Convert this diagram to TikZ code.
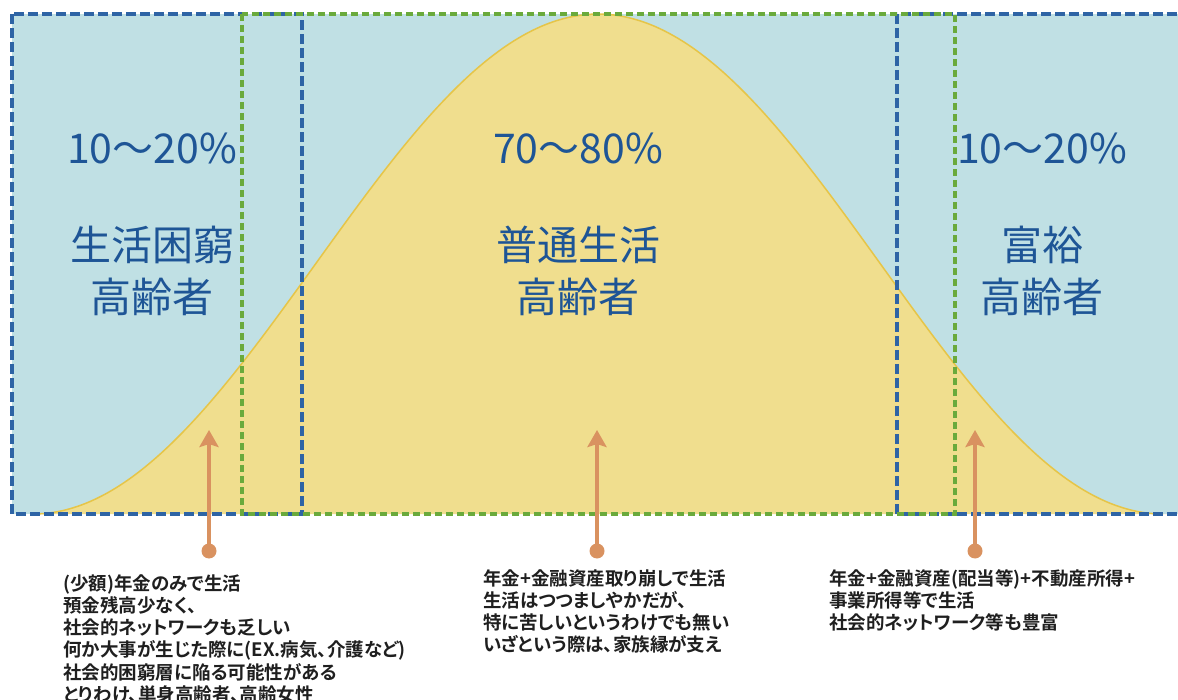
\documentclass[tikz,border=0pt]{standalone}
\usepackage{fontspec}
\newfontfamily\jpfont[RawFeature=+palt, BoldFont={Noto Sans CJK JP Bold}]{Noto Sans CJK JP}
\usetikzlibrary{arrows.meta, positioning}

\definecolor{skyfill}{HTML}{C0E0E4}
\definecolor{bellfill}{HTML}{F0DE8E}
\definecolor{bellline}{HTML}{E6C548}
\definecolor{boxblue}{HTML}{2E64A5}
\definecolor{boxgreen}{HTML}{6AAA3C}
\definecolor{pointer}{HTML}{D99260}
\definecolor{labelblue}{HTML}{1E5596}

\begin{document}
\begin{tikzpicture}[
x=1pt, y=-1pt,
bluebox/.style={draw=boxblue, line width=3.5pt, dash pattern=on 10pt off 4pt},
greenbox/.style={draw=boxgreen, line width=3.5pt, dash pattern=on 7pt off 4pt},
bigtext/.style={text=labelblue, font=\jpfont\fontsize{41}{52}\selectfont, align=center, inner sep=0pt},
notetext/.style={text=black!88, font=\jpfont\bfseries\fontsize{18.5}{22.3}\selectfont, align=left, anchor=north west, inner sep=0pt},
dotnode/.style={circle, fill=pointer, minimum size=15pt, inner sep=0pt},
pointerline/.style={draw=pointer, line width=4.5pt, -{Stealth[length=17pt, width=19pt, inset=3pt]}}
]

\useasboundingbox (0,0) rectangle (1178,700);

% background and bell curve
\fill[skyfill] (12,14) rectangle (1178,514);
\fill[bellfill] (33,514) -- plot[domain=33:1163, samples=150, smooth] (\x, {514-500*pow(cos(0.159292*(\x-598)),2)}) -- (1178,514) -- cycle;
\draw[bellline, line width=1.5pt] plot[domain=33:1163, samples=150, smooth] (\x, {514-500*pow(cos(0.159292*(\x-598)),2)});

% dashed groups
\draw[bluebox] (12,14) rectangle (302,514);
\draw[bluebox] (897,14) rectangle (1195,514);
\draw[greenbox] (242,14) rectangle (955,514);

% labels
\node[bigtext] (pct_poor) at (152,148) {10～20\%};
\node[bigtext] (grp_poor) at (152,271) {生活困窮\\高齢者};
\node[bigtext] (pct_mid) at (578,148) {70～80\%};
\node[bigtext] (grp_mid) at (578,271) {普通生活\\高齢者};
\node[bigtext] (pct_rich) at (1042,148) {10～20\%};
\node[bigtext] (grp_rich) at (1042,271) {富裕\\高齢者};

% pointers
\node[dotnode] (dot_poor) at (209,551) {};
\node[dotnode] (dot_mid) at (597,551) {};
\node[dotnode] (dot_rich) at (975,551) {};
\coordinate (tip_poor) at (209,430);
\coordinate (tip_mid) at (597,430);
\coordinate (tip_rich) at (975,430);

\path[pointerline] (dot_poor.center) -- (tip_poor);
\path[pointerline] (dot_mid.center) -- (tip_mid);
\path[pointerline] (dot_rich.center) -- (tip_rich);

% notes
\node[notetext] (note_poor) at (63,574) {(少額)年金のみで生活\\預金残高少なく、\\社会的ネットワークも乏しい\\何か大事が生じた際に(EX.病気、介護など)\\社会的困窮層に陥る可能性がある\\とりわけ、単身高齢者、高齢女性};
\node[notetext] (note_mid) at (483,569) {年金+金融資産取り崩しで生活\\生活はつつましやかだが、\\特に苦しいというわけでも無い\\いざという際は、家族縁が支え};
\node[notetext] (note_rich) at (829,569) {年金+金融資産(配当等)+不動産所得+\\事業所得等で生活\\社会的ネットワーク等も豊富};

\end{tikzpicture}
\end{document}
